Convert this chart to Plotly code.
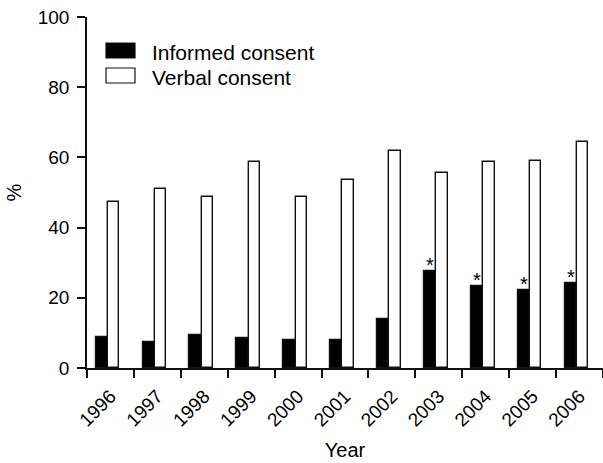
import plotly.graph_objects as go

years = ["1996", "1997", "1998", "1999", "2000", "2001", "2002", "2003", "2004", "2005", "2006"]
informed = [8.8, 7.5, 9.5, 8.6, 8.0, 8.1, 14.0, 27.6, 23.4, 22.1, 24.2]
verbal = [47.3, 50.9, 48.6, 58.7, 48.8, 53.7, 61.8, 55.6, 58.8, 58.9, 64.3]
significant = ["", "", "", "", "", "", "", "*", "*", "*", "*"]
series_names = ["Informed consent", "Verbal consent"]
y_ticks = [0, 20, 40, 60, 80, 100]

FONT = "Liberation Sans, Arial, sans-serif"
W, H = 603, 463
ML, MR, MT, MB = 87, 0, 17, 95
PW, PH = W - ML - MR, H - MT - MB

b_off, b_w = -0.316, 0.262
v_off, v_w = b_off + b_w, 0.241
line_c = "#111111"

fig = go.Figure()
fig.add_trace(go.Bar(x=years, y=informed, name=series_names[0], offset=b_off, width=b_w,
                     marker=dict(color="black", line=dict(color=line_c, width=1.2)),
                     showlegend=False))
fig.add_trace(go.Bar(x=years, y=verbal, name=series_names[1], offset=v_off, width=v_w,
                     marker=dict(color="white", line=dict(color=line_c, width=1.4)),
                     showlegend=False))

# significance markers above informed-consent bars
for i, (v, s) in enumerate(zip(informed, significant)):
    if s:
        fig.add_annotation(x=i + b_off + b_w / 2, y=v, xref="x", yref="y", text=s,
                           showarrow=False, yanchor="bottom", yshift=-7,
                           font=dict(family=FONT, size=20, color="black"))

# custom legend
def px_x(p):
    return (p - ML) / PW

def px_y(p):
    return (MT + PH - p) / PH

legend_rows = [(series_names[0], "black", 43, 58), (series_names[1], "white", 68, 83)]
for name, col, y0, y1 in legend_rows:
    fig.add_shape(type="rect", xref="paper", yref="paper",
                  x0=px_x(106), x1=px_x(135), y0=px_y(y1), y1=px_y(y0),
                  fillcolor=col, line=dict(color=line_c, width=1.2))
    fig.add_annotation(xref="paper", yref="paper", x=px_x(150), y=px_y((y0 + y1) / 2 + 2),
                       text=name, showarrow=False, xanchor="left", yanchor="middle",
                       font=dict(family=FONT, size=21, color="black"))

axis_common = dict(showline=True, linecolor=line_c, linewidth=1.5, ticks="outside",
                   ticklen=8, tickwidth=1.5, tickcolor=line_c, showgrid=False, zeroline=False,
                   automargin=False, layer="above traces",
                   tickfont=dict(family=FONT, size=19, color="black"))

fig.update_layout(
    width=W, height=H,
    margin=dict(l=ML, r=MR, t=MT, b=MB),
    plot_bgcolor="white", paper_bgcolor="white",
    barmode="group", bargap=0, bargroupgap=0,
    font=dict(family=FONT, color="black"),
    xaxis=dict(type="category", range=[-0.5, 10.5], tickson="boundaries", tickangle=-45,
               ticklabelstandoff=8,
               title=dict(text="Year", font=dict(family=FONT, size=20), standoff=14),
               **axis_common),
    yaxis=dict(range=[0, 100], tickvals=y_ticks, ticklabelstandoff=4,
               title=dict(text="%", font=dict(family=FONT, size=20), standoff=11),
               **axis_common),
)

fig.write_html("out.html", config={"displayModeBar": False},
               post_script="document.body.style.margin='0px';document.body.style.overflow='hidden';")
